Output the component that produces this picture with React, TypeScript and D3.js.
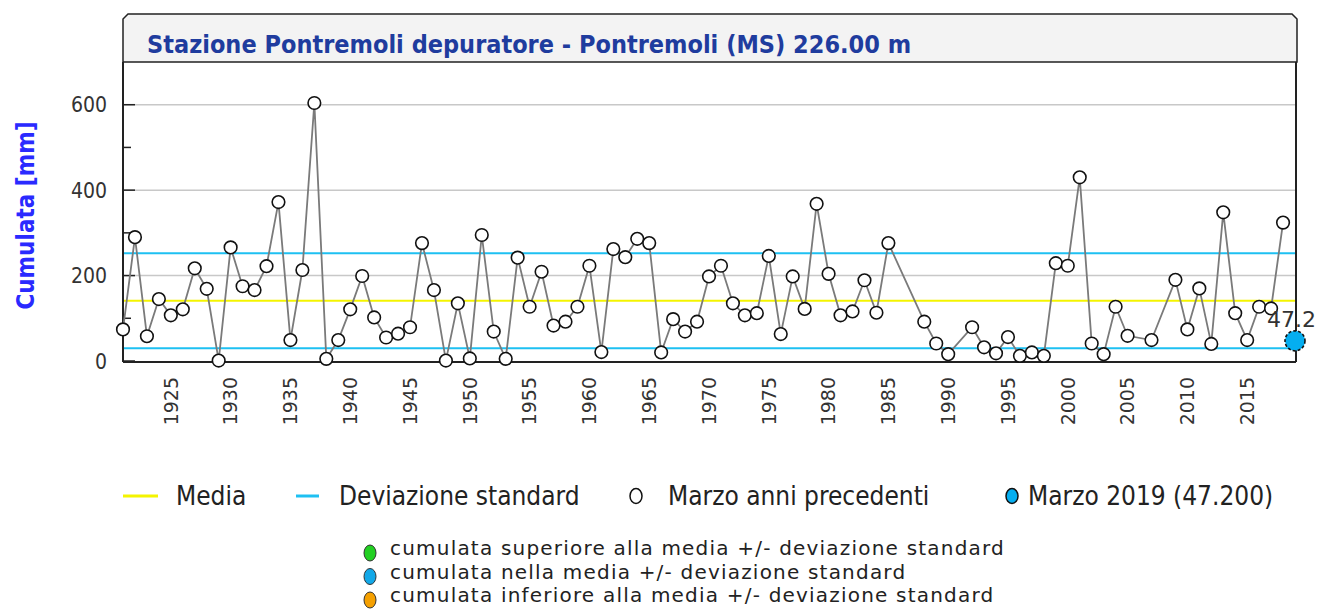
import React from 'react';
import * as d3 from 'd3';

// Cumulata di marzo, anni precedenti (anni mancanti: 1986, 1987, 1991, 2006, 2008)
const years = [
  1921, 1922, 1923, 1924, 1925, 1926, 1927, 1928, 1929, 1930,
  1931, 1932, 1933, 1934, 1935, 1936, 1937, 1938, 1939, 1940,
  1941, 1942, 1943, 1944, 1945, 1946, 1947, 1948, 1949, 1950,
  1951, 1952, 1953, 1954, 1955, 1956, 1957, 1958, 1959, 1960,
  1961, 1962, 1963, 1964, 1965, 1966, 1967, 1968, 1969, 1970,
  1971, 1972, 1973, 1974, 1975, 1976, 1977, 1978, 1979, 1980,
  1981, 1982, 1983, 1984, 1985, 1988, 1989, 1990, 1992, 1993,
  1994, 1995, 1996, 1997, 1998, 1999, 2000, 2001, 2002, 2003,
  2004, 2005, 2007, 2009, 2010, 2011, 2012, 2013, 2014, 2015,
  2016, 2017, 2018,
];
const cumulata = [
  74, 290, 58, 145, 107, 121, 217, 169, 1, 266,
  175, 166, 222, 372, 49, 213, 604, 5, 49, 121,
  199, 102, 55, 64, 79, 276, 166, 1, 135, 6,
  295, 69, 5, 242, 127, 209, 83, 92, 127, 223,
  21, 262, 243, 286, 276, 20, 98, 69, 92, 198,
  223, 135, 107, 112, 246, 63, 198, 122, 368, 204,
  107, 116, 189, 113, 276, 92, 41, 16, 79, 32,
  18, 56, 12, 20, 12, 229, 223, 430, 41, 16,
  127, 59, 49, 190, 74, 170, 40, 348, 112, 49,
  127, 123, 324,
];
const currentYear = 2019;
const currentValue = 47.2;
const media = 141;
const deviazione = 111;

const yTicks = [0, 200, 400, 600];
const yMinorTicks = [100, 300, 500];
const xTicks = [1925, 1930, 1935, 1940, 1945, 1950, 1955, 1960, 1965, 1970, 1975, 1980, 1985, 1990, 1995, 2000, 2005, 2010, 2015];

const legendItems = ['Media', 'Deviazione standard', 'Marzo anni precedenti', 'Marzo 2019 (47.200)'];
const classLabels = [
  'cumulata superiore alla media +/- deviazione standard',
  'cumulata nella media +/- deviazione standard',
  'cumulata inferiore alla media +/- deviazione standard',
];
const classColors = ['#22d022', '#12a8e8', '#f5a000'];

const W = 1317;
const H = 610;
const plot = { left: 123, right: 1296, top: 62, bottom: 361 };

export default function App() {
  const x = d3.scaleLinear().domain([1921, 2019]).range([plot.left, 1295]);
  const y = d3.scaleLinear().domain([0, 700]).range([plot.bottom, plot.top]);

  const pts = years.map((yr, i) => ({ yr, v: cumulata[i] }));
  const line = d3.line<{ yr: number; v: number }>()
    .x(d => x(d.yr))
    .y(d => y(d.v));

  const cond = '"DejaVu Sans Condensed", "DejaVu Sans", sans-serif';
  const sans = '"DejaVu Sans", sans-serif';
  const cyan = '#1ec0f2';
  const yellow = '#f4f400';

  // title box with chamfered top corners
  const tb = { l: 123, r: 1297, t: 14, b: 62, c: 5 };
  const titlePath = `M${tb.l},${tb.b} L${tb.l},${tb.t + tb.c} L${tb.l + tb.c},${tb.t} L${tb.r - tb.c},${tb.t} L${tb.r},${tb.t + tb.c} L${tb.r},${tb.b} Z`;

  return (
    <svg width={W} height={H} style={{ position: 'absolute', left: 0, top: 0, background: '#fff' }}>
      <path d={titlePath} fill="#f3f3f3" stroke="#222" strokeWidth={1.5} />
      <text x={147} y={53} fontFamily={cond} fontWeight="bold" fontSize={25} fill="#1f3c9e">
        Stazione Pontremoli depuratore - Pontremoli (MS) 226.00 m
      </text>

      {/* grid */}
      {yTicks.filter(t => t > 0).map(t => (
        <line key={t} x1={plot.left} x2={plot.right} y1={y(t)} y2={y(t)} stroke="#c8c8c8" strokeWidth={1.5} />
      ))}

      {/* media e deviazione */}
      <line x1={plot.left} x2={plot.right} y1={y(media)} y2={y(media)} stroke={yellow} strokeWidth={2} />
      <line x1={plot.left} x2={plot.right} y1={y(media + deviazione)} y2={y(media + deviazione)} stroke={cyan} strokeWidth={2} />
      <line x1={plot.left} x2={plot.right} y1={y(media - deviazione)} y2={y(media - deviazione)} stroke={cyan} strokeWidth={2} />

      {/* frame */}
      <line x1={plot.left} x2={plot.left} y1={plot.top} y2={plot.bottom + 1} stroke="#222" strokeWidth={2} />
      <line x1={plot.right} x2={plot.right} y1={plot.top} y2={plot.bottom + 1} stroke="#222" strokeWidth={2} />
      <line x1={plot.left} x2={plot.right} y1={plot.bottom + 1} y2={plot.bottom + 1} stroke="#222" strokeWidth={2} />

      {/* y ticks */}
      {yTicks.map(t => (
        <g key={t}>
          <line x1={plot.left} x2={plot.left + 12} y1={y(t)} y2={y(t)} stroke="#222" strokeWidth={1.5} />
          <text x={107} y={y(t)} dy="0.36em" textAnchor="end" fontFamily={cond} fontSize={21} fill="#333">{t}</text>
        </g>
      ))}
      {yMinorTicks.map(t => (
        <line key={t} x1={plot.left} x2={plot.left + 8} y1={y(t)} y2={y(t)} stroke="#222" strokeWidth={1.5} />
      ))}
      <text transform={`translate(34,${(plot.top + plot.bottom) / 2 + 4}) rotate(-90)`} textAnchor="middle"
        fontFamily={cond} fontWeight="bold" fontSize={24} fill="#2a2aff">
        Cumulata [mm]
      </text>

      {/* x labels */}
      {xTicks.map(t => (
        <text key={t} transform={`translate(${x(t)},${377}) rotate(-90)`} dy="0.36em" textAnchor="end"
          fontFamily={sans} fontSize={19} fill="#333">{t}</text>
      ))}

      {/* serie */}
      <path d={line(pts) ?? ''} fill="none" stroke="#7a7a7a" strokeWidth={1.8} />
      {pts.map(p => (
        <circle key={p.yr} cx={x(p.yr)} cy={y(p.v)} r={6.3} fill="#fff" stroke="#111" strokeWidth={1.6} />
      ))}
      <circle cx={x(currentYear)} cy={y(currentValue)} r={10} fill="#05aef0" stroke="#111" strokeWidth={1.6} strokeDasharray="3,2" />
      <text x={1267} y={327} fontFamily={sans} fontSize={22} fill="#333">{currentValue.toFixed(1)}</text>

      {/* legenda */}
      <line x1={123} x2={158} y1={496} y2={496} stroke={yellow} strokeWidth={3} />
      <text x={176} y={505} fontFamily={cond} fontSize={26} fill="#222">{legendItems[0]}</text>
      <line x1={296} x2={319} y1={496} y2={496} stroke={cyan} strokeWidth={3} />
      <text x={339} y={505} fontFamily={cond} fontSize={26} fill="#222">{legendItems[1]}</text>
      <ellipse cx={636} cy={496} rx={6} ry={7.5} fill="#fff" stroke="#111" strokeWidth={1.5} />
      <text x={668} y={505} fontFamily={cond} fontSize={26} fill="#222">{legendItems[2]}</text>
      <ellipse cx={1012} cy={496} rx={6} ry={7.5} fill="#05aef0" stroke="#111" strokeWidth={1.5} />
      <text x={1028} y={505} fontFamily={cond} fontSize={26} fill="#222">{legendItems[3]}</text>

      {classLabels.map((lab, i) => (
        <g key={lab}>
          <ellipse cx={370} cy={553 + i * 23.5} rx={6} ry={8} fill={classColors[i]} stroke="#333" strokeWidth={1} />
          <text x={390} y={555 + i * 23.5} fontFamily={sans} fontSize={20} letterSpacing={1.2} fill="#222">{lab}</text>
        </g>
      ))}
    </svg>
  );
}
